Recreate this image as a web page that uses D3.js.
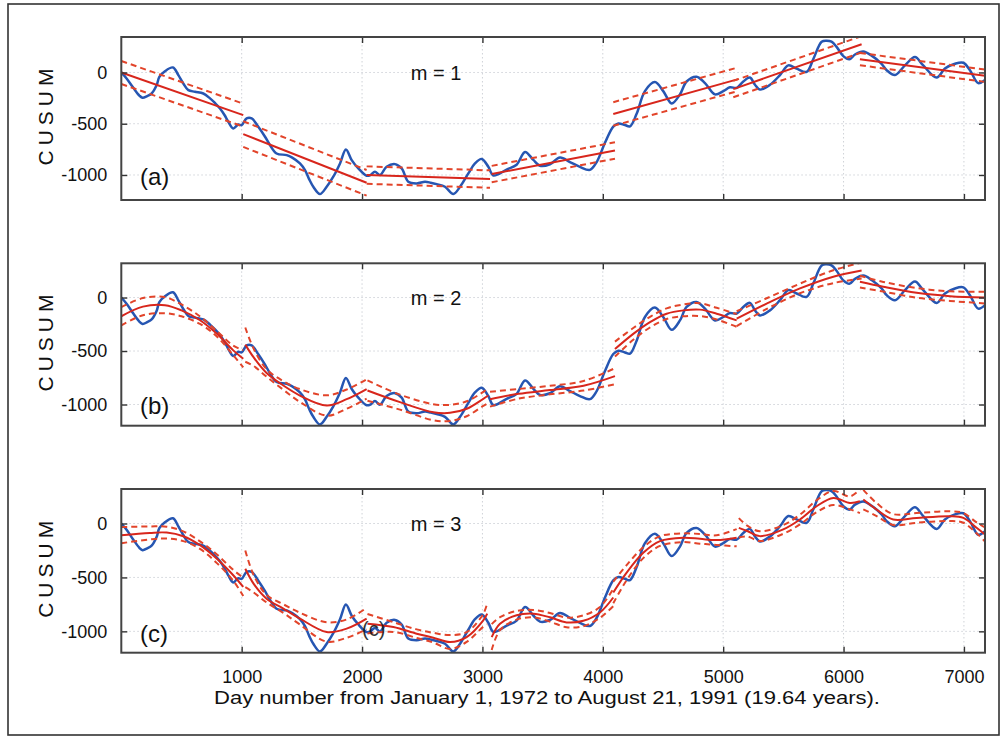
<!DOCTYPE html>
<html><head><meta charset="utf-8">
<script src="https://cdn.jsdelivr.net/npm/d3@7"></script>
<style>
body{margin:0;background:#fff}
svg{display:block}
text{font-family:"Liberation Sans",Arial,Helvetica,sans-serif;fill:#111}
</style>
</head><body>
<svg id="chart" width="1007" height="739"></svg>
<script>
// ---------- DATA ----------
const dayNumbers = [0,44,100,150,177,215,252,294,316,360,429,474,515,557,612,681,737,780,820,860,889,930,972,1000,1041,1083,1138,1194,1235,1290,1374,1420,1484,1526,1560,1595,1650,1706,1761,1817,1866,1914,1969,2038,2070,2107,2149,2204,2274,2329,2384,2454,2523,2570,2620,2689,2758,2814,2883,2938,2994,3049,3091,3201,3284,3354,3423,3478,3561,3644,3727,3810,3893,3949,4018,4087,4129,4184,4226,4281,4350,4433,4502,4572,4641,4696,4779,4849,4932,5001,5056,5112,5167,5222,5264,5305,5389,5472,5541,5610,5693,5749,5818,5860,5900,5942,5998,6048,6095,6164,6233,6316,6358,6427,6510,6593,6662,6773,6842,6925,6995,7050,7119,7175];
const cusumValues = [0,-58,-150,-225,-247,-230,-205,-123,-42,10,49,-26,-107,-172,-188,-205,-253,-300,-351,-420,-481,-546,-507,-513,-448,-448,-530,-627,-708,-790,-806,-830,-887,-952,-1040,-1115,-1186,-1115,-1017,-887,-751,-855,-936,-1007,-1000,-968,-1001,-920,-894,-936,-1066,-1082,-1066,-1075,-1089,-1115,-1186,-1115,-985,-887,-843,-920,-1005,-947,-900,-775,-853,-910,-895,-830,-874,-921,-950,-874,-686,-528,-497,-513,-525,-403,-182,-94,-182,-302,-214,-88,-41,-104,-214,-182,-145,-150,-88,-50,-120,-167,-120,-25,69,38,6,132,300,310,300,250,160,128,175,205,164,85,22,-25,69,150,69,-50,38,85,95,22,-104,-72];

// fitted segments: each point is [day, fitted value, half-width of the confidence band]
const fitM1 = [
  [[0,0,112],[1013,-416,112]],
  [[1013,-601,125],[2038,-1076,125]],
  [[2038,-1001,85],[3063,-1040,85]],
  [[3077,-991,80],[4101,-761,80]],
  [[4087,-405,115],[5125,-65,115]],
  [[5084,-162,80],[6150,275,80]],
  [[6136,130,60],[7175,-32,60]]
];
const fitM2 = [
  [[0,-175,85],[180,-85,80],[363,-72,75],[500,-120,55],[654,-212,35],[792,-337,25],[930,-494,45],[1013,-572,80]],
  [[1030,-440,160],[1100,-560,80],[1207,-705,35],[1346,-822,40],[1484,-916,60],[1706,-1009,95],[1872,-950,90],[2038,-855,90]],
  [[2045,-869,95],[2315,-978,70],[2592,-1072,75],[2731,-1078,75],[2869,-1040,70],[3007,-947,65],[3049,-916,70]],
  [[3063,-950,70],[3300,-900,45],[3561,-865,40],[3840,-825,45],[4101,-735,75]],
  [[4101,-482,70],[4253,-340,55],[4392,-230,50],[4530,-151,50],[4669,-120,55],[4807,-113,60],[4946,-151,55],[5112,-214,60]],
  [[5112,-198,70],[5361,-57,50],[5638,85,45],[5915,195,60],[6150,252,75]],
  [[6136,148,55],[6330,101,45],[6607,44,45],[6884,13,45],[7175,0,55]]
];
const fitM3 = [
  [[0,-108,75],[238,-87,60],[377,-84,55],[515,-118,45],[654,-201,35],[792,-325,40],[930,-480,50],[1013,-588,85]],
  [[1030,-420,170],[1100,-560,80],[1207,-697,35],[1346,-789,40],[1484,-882,55],[1706,-1006,90],[1872,-975,85],[2038,-882,100]],
  [[2045,-929,90],[2260,-960,45],[2454,-1022,40],[2592,-1059,45],[2731,-1099,65],[2869,-1053,45],[3007,-898,60],[3040,-836,100]],
  [[3077,-1053,120],[3146,-929,60],[3284,-851,40],[3423,-836,35],[3561,-870,40],[3699,-917,45],[3838,-902,50],[3976,-825,50],[4087,-686,80]],
  [[4087,-640,100],[4198,-455,70],[4336,-271,50],[4475,-163,45],[4669,-132,40],[4807,-142,45],[4946,-154,45],[5112,-132,80]],
  [[5130,-40,90],[5200,-70,50],[5305,-117,45],[5499,-55,40],[5638,37,45],[5776,160,55],[5915,237,65],[6053,191,60],[6136,206,110]],
  [[6164,222,90],[6275,129,60],[6413,37,50],[6607,52,45],[6884,68,45],[6995,52,45],[7105,-40,50],[7175,-102,65]]
];
const xTickValues = [1000,2000,3000,4000,5000,6000,7000];
const yTickValues = [0,-500,-1000];
const panelLetters = ["(a)","(b)","(c)"];
const orderLabels = ["m = 1","m = 2","m = 3"];
const yAxisTitle = "CUSUM";
const xAxisTitle = "Day number from January 1, 1972 to August 21, 1991 (19.64 years).";

// ---------- LAYOUT ----------
const svg = d3.select("#chart");
const left = 121.3, right = 985;
const x = d3.scaleLinear().domain([0, 7175]).range([left, right]);

const panels = [
  {top:37,    bottom:200,   domain:[-1244,346], fit:fitM1, curve:d3.curveLinear, letterY:185, mY:80},
  {top:263.3, bottom:425.7, domain:[-1198,320], fit:fitM2, curve:d3.curveCatmullRom.alpha(0.5), letterY:414, mY:305},
  {top:489,   bottom:652.7, domain:[-1198,320], fit:fitM3, curve:d3.curveCatmullRom.alpha(0.5), letterY:642, mY:531}
];

const blue = dayNumbers.map((d,i)=>({d, v:cusumValues[i]}));

// outer frame
svg.append("rect").attr("x",8).attr("y",4).attr("width",991).attr("height",731)
  .attr("fill","none").attr("stroke","#333").attr("stroke-width",1.6);

panels.forEach((p, idx) => {
  const y = d3.scaleLinear().domain(p.domain).range([p.bottom, p.top]);
  const g = svg.append("g");
  const clipId = "clip"+idx;
  svg.append("clipPath").attr("id",clipId).append("rect")
    .attr("x",left).attr("y",p.top).attr("width",right-left).attr("height",p.bottom-p.top);

  // grid
  const grid = g.append("g").attr("stroke","#cfd2d8").attr("stroke-width",1).attr("stroke-dasharray","1.5,2.5");
  grid.selectAll("line.gx").data(xTickValues).join("line")
    .attr("x1",d=>x(d)).attr("x2",d=>x(d)).attr("y1",p.top).attr("y2",p.bottom);
  grid.selectAll("line.gy").data(yTickValues).join("line")
    .attr("y1",d=>y(d)).attr("y2",d=>y(d)).attr("x1",left).attr("x2",right);

  const plot = g.append("g").attr("clip-path",`url(#${clipId})`);

  // CUSUM (blue)
  plot.append("path").datum(blue)
    .attr("fill","none").attr("stroke","#2656b2").attr("stroke-width",2.5).attr("stroke-linejoin","round")
    .attr("d", d3.line().x(d=>x(d.d)).y(d=>y(d.v)).curve(d3.curveCatmullRom.alpha(0.5)));

  // fits
  p.fit.forEach(seg => {
    const mk = k => d3.line().x(s=>x(s[0])).y(s=>y(s[1]+k*s[2])).curve(p.curve)(seg);
    [1,-1].forEach(k=>{
      plot.append("path").attr("d",mk(k)).attr("fill","none")
        .attr("stroke","#e2442a").attr("stroke-width",2).attr("stroke-dasharray","6,4");
    });
    plot.append("path").attr("d",mk(0)).attr("fill","none")
      .attr("stroke","#d8261c").attr("stroke-width",2);
  });

  // axes (inward ticks)
  const fmt = d => String(d);
  const ax = g.append("g").attr("class","axes");
  const bottomAx = ax.append("g").attr("transform",`translate(0,${p.bottom})`)
    .call(d3.axisBottom(x).tickValues(xTickValues).tickSizeInner(-6).tickSizeOuter(0).tickPadding(18).tickFormat(fmt));
  if (idx < 2) bottomAx.selectAll("text").remove();
  ax.append("g").attr("transform",`translate(0,${p.top})`)
    .call(d3.axisTop(x).tickValues(xTickValues).tickSizeInner(-6).tickSizeOuter(0)).selectAll("text").remove();
  ax.append("g").attr("transform",`translate(${left},0)`)
    .call(d3.axisLeft(y).tickValues(yTickValues).tickSizeInner(-6).tickSizeOuter(0).tickPadding(14).tickFormat(fmt));
  ax.append("g").attr("transform",`translate(${right},0)`)
    .call(d3.axisRight(y).tickValues(yTickValues).tickSizeInner(-6).tickSizeOuter(0)).selectAll("text").remove();
  ax.selectAll(".domain").remove();
  ax.selectAll(".tick line").attr("stroke","#333").attr("stroke-width",1.4);
  ax.selectAll(".tick text").attr("font-size",18).attr("fill","#111")
    .style("font-family",'"Liberation Sans",Arial,sans-serif');

  // frame
  g.append("rect").attr("x",left).attr("y",p.top).attr("width",right-left).attr("height",p.bottom-p.top)
    .attr("fill","none").attr("stroke","#444").attr("stroke-width",2);

  // labels
  g.append("text").attr("transform",`translate(53,${(p.top+p.bottom)/2 - 4}) rotate(-90)`)
    .attr("text-anchor","middle").attr("font-size",21).attr("letter-spacing",5).text(yAxisTitle);
  g.append("text").attr("x",436).attr("y",p.mY).attr("text-anchor","middle").attr("font-size",20).text(orderLabels[idx]);
  g.append("text").attr("x",140).attr("y",p.letterY).attr("font-size",24).text(panelLetters[idx]);
});

// stray "(c)" inside panel c
svg.append("text").attr("x",362).attr("y",636).attr("font-size",20).attr("fill","#222").attr("opacity",0.85).text(panelLetters[2]);

// x-axis title
svg.append("text").attr("x",214).attr("y",704).attr("font-size",17.5)
  .attr("textLength",666).attr("lengthAdjust","spacingAndGlyphs").text(xAxisTitle);
</script>
</body></html>
